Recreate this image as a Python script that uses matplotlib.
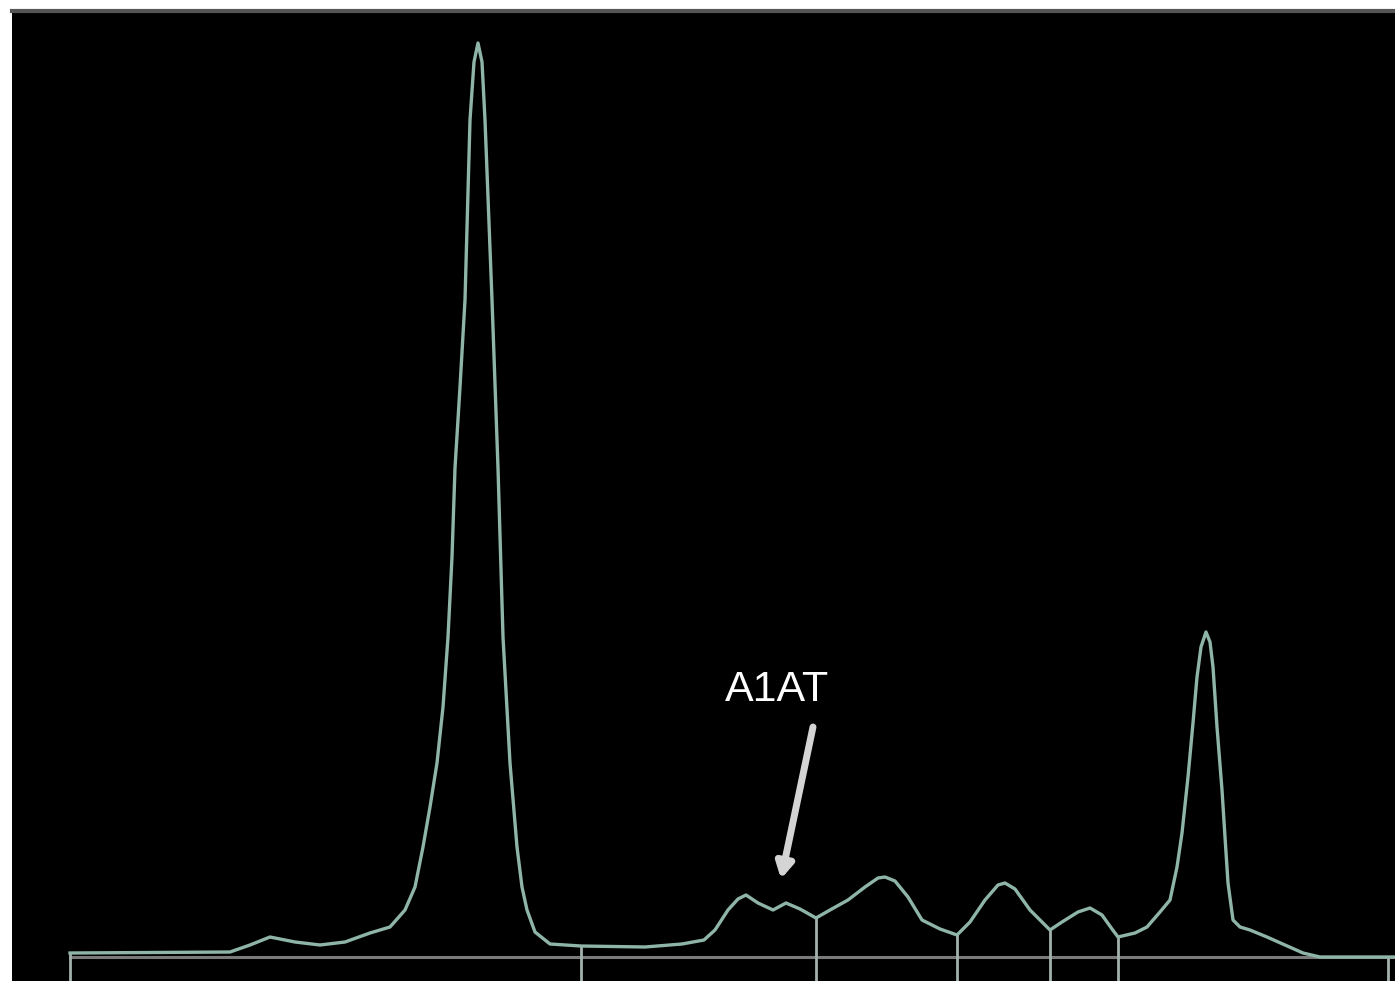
import matplotlib
matplotlib.use("Agg")
import matplotlib.pyplot as plt
from matplotlib.patches import Rectangle

# Densitometry trace: position (mobility) vs intensity
position = [70, 230, 250, 270, 295, 320, 345, 370, 390, 405, 415, 423, 430, 437, 443,
            448, 452, 455, 460, 465, 470, 474, 478, 482, 485, 492, 498, 503, 510, 517,
            522, 527, 535, 550,
            581, 645, 682, 704, 715, 728, 738, 746, 758, 773, 786, 800, 816, 830, 848,
            865, 878, 885, 895, 908, 922, 940, 957, 970, 985, 998, 1005, 1015, 1030, 1050,
            1062, 1078, 1090, 1102, 1112, 1118, 1135, 1147, 1160, 1170, 1177, 1182, 1188,
            1193, 1197, 1201, 1206, 1210, 1213, 1217, 1222, 1225, 1228, 1233, 1240, 1250,
            1267, 1285, 1303, 1320, 1395]
intensity = [4, 5, 12, 20, 15, 12, 15, 24, 30, 47, 70, 110, 150, 194, 250,
             320, 400, 489, 570, 657, 837, 895, 914, 895, 837, 657, 489, 320, 194, 110,
             70, 47, 25, 13,
             11, 10, 13, 17, 27, 47, 58, 62, 54, 47, 54, 48, 39, 47, 57,
             70, 79, 80, 76, 60, 37, 28, 22, 35, 57, 72, 74, 68, 47, 27,
             35, 45, 49, 42, 28, 20, 24, 30, 45, 57, 90, 124, 180,
             234, 280, 310, 325, 315, 290, 230, 167, 120, 74, 37, 30, 27,
             20, 12, 4, 0, 0]

# Fraction boundaries
boundaries = [70, 581, 816, 957, 1050, 1118, 1388]
label_text = "A1AT"

fig = plt.figure(figsize=(13.95, 9.81), dpi=100, facecolor="white")
ax = fig.add_axes([0, 0, 1, 1])
ax.set_xlim(0, 1395)
ax.set_ylim(-24, 957)
ax.axis("off")

# black panel
ax.add_patch(Rectangle((12, -24), 1395 - 12, 947 + 24, facecolor="black",
                       edgecolor="none", zorder=0))
ax.plot([12, 1395], [946, 946], color="#555555", lw=3, zorder=1)

# baseline
ax.plot([70, 1395], [0, 0], color="#7a7a7a", lw=2.2, zorder=2)

# fraction separators
for b in boundaries:
    top = 0
    for i in range(len(position) - 1):
        if position[i] <= b <= position[i + 1]:
            x0, x1 = position[i], position[i + 1]
            y0, y1 = intensity[i], intensity[i + 1]
            top = y0 + (y1 - y0) * (b - x0) / (x1 - x0) if x1 != x0 else y0
            break
    ax.plot([b, b], [-24, top], color="#a3b2ab", lw=2, zorder=2)

# trace
ax.plot(position, intensity, color="#8fb5a8", lw=2.4, zorder=3,
        solid_joinstyle="round")

# annotation
ax.text(777, 267, label_text, color="white", fontsize=31,
        family="Liberation Sans", ha="center", va="center", zorder=4)
ax.annotate("", xy=(781, 78), xytext=(813, 230),
            arrowprops=dict(arrowstyle="-|>,head_width=0.5,head_length=0.9",
                            color="#d4d4d4", lw=5, shrinkA=0, shrinkB=0),
            zorder=4)

fig.savefig("out.png", dpi=100, facecolor="white")
